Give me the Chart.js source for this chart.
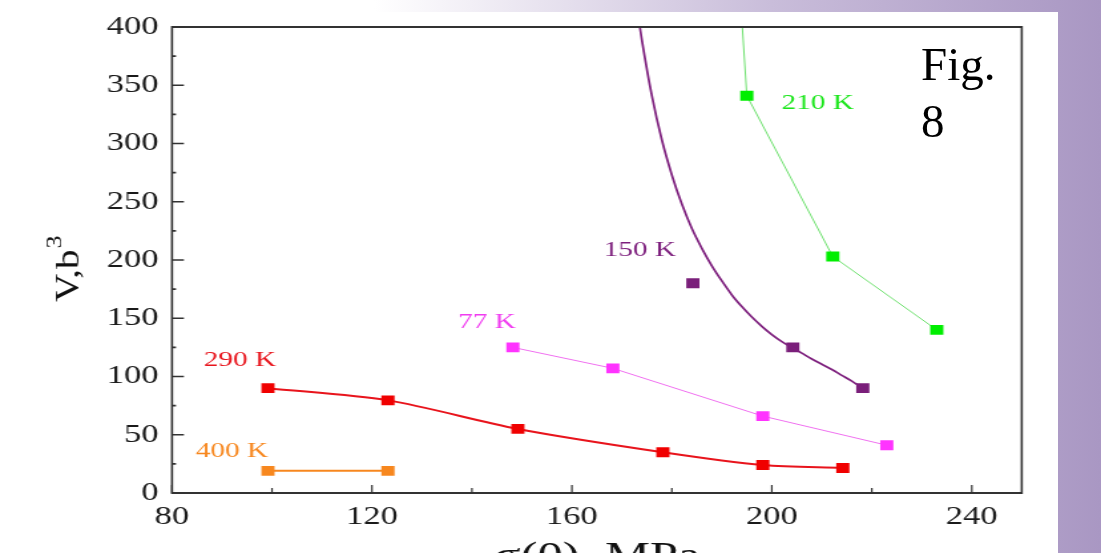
<!DOCTYPE html>
<html>
<head>
<meta charset="utf-8">
<script src="https://cdn.jsdelivr.net/npm/chart.js@4.4.1/dist/chart.umd.min.js"></script>
<style>
    html, body {
        margin: 0;
        width: 1101px;
        height: 553px;
        overflow: hidden;
        background: linear-gradient(to right, #ffffff 0%, #ffffff 34%, #c9bdda 70%, #a997c3 100%);
        position: relative;
    }
    #panel {
        position: absolute; left: 0; top: 12px; width: 1058px; height: 541px;
        background: #fff;
    }
    #wrap {
        position: absolute; left: 0; top: 0; width: 828px; height: 553px;
        transform: scaleX(1.3297); transform-origin: 0 0;
    }
    #fig {
        position: absolute; left: 921px; top: 36px; width: 85px;
        font-family: "Liberation Serif", "Times New Roman", serif; font-size: 47px; line-height: 57px; color: #000;
    }
</style>
</head>
<body>
<div id="panel"></div>
<div id="wrap"><canvas id="vChart" width="828" height="553"></canvas></div>
<div id="fig">Fig. 8</div>
<script>
// tick values
const xTicks = [80, 120, 160, 200, 240];
const yTicks = [0, 50, 100, 150, 200, 250, 300, 350, 400];

// sigma(0), MPa  vs  V, b^3
const sigma400 = [99.2, 123.2];
const v400 = [19, 19];

const sigma290 = [99.2, 123.2, 149.2, 178.2, 198.2, 214.2];
const v290 = [90, 79.5, 55, 35, 24, 21.5];

const sigma77 = [148.2, 168.2, 198.2, 223];
const v77 = [125, 107, 66, 41];

const sigma150 = [184.2, 204.2, 218.2];
const v150 = [180, 125, 90];

// fitted curve drawn through the 150 K data
const sigma150Fit = [173.6, 174, 176, 178, 180, 182, 184, 186, 188, 190, 192, 194, 196, 198,
    200, 202, 204, 206, 208, 210, 212, 214, 216, 218.2];
const v150Fit = [400, 389, 341, 303, 273, 248, 227, 210, 195, 182, 170, 160, 151, 143,
    136, 130, 125, 120, 115, 110.5, 106, 101, 96, 90];

const sigma210 = [194.1, 195, 212.2, 233];
const v210 = [400, 341, 203, 140];

const tempLabels = ['400 K', '290 K', '77 K', '150 K', '210 K'];

const STRETCH = 1.3297;

function pairs(xs, ys) {
    return xs.map((x, i) => ({ x: x, y: ys[i] }));
}

// where each temperature label sits (data units) and its colour
const labelSpots = [
    { text: tempLabels[0], x: 92, y: 36, color: '#f7871e' },
    { text: tempLabels[1], x: 93.6, y: 114, color: '#e8141c' },
    { text: tempLabels[2], x: 143, y: 147, color: '#f03cf0' },
    { text: tempLabels[3], x: 173.6, y: 208, color: '#7d1f7d' },
    { text: tempLabels[4], x: 209.2, y: 335, color: '#19e619' }
];

const decorPlugin = {
    id: 'decor',
    afterDraw(chart) {
        const { ctx, chartArea: a, scales: { x, y } } = chart;
        ctx.save();
        ctx.strokeStyle = '#333';

        // frame
        ctx.lineWidth = 2;
        ctx.beginPath();
        ctx.moveTo(a.left, a.top); ctx.lineTo(a.right, a.top);
        ctx.moveTo(a.left, a.bottom); ctx.lineTo(a.right, a.bottom);
        ctx.stroke();
        ctx.lineWidth = 1.6;
        ctx.beginPath();
        ctx.moveTo(a.left, a.top - 1); ctx.lineTo(a.left, a.bottom + 1);
        ctx.moveTo(a.right, a.top - 1); ctx.lineTo(a.right, a.bottom + 1);
        ctx.stroke();

        // inward ticks, bottom axis
        ctx.lineWidth = 1.2;
        ctx.beginPath();
        xTicks.forEach((v, i) => {
            const px = x.getPixelForValue(v);
            ctx.moveTo(px, a.bottom); ctx.lineTo(px, a.bottom - 8);
            if (i < xTicks.length - 1) {
                const mx = x.getPixelForValue((v + xTicks[i + 1]) / 2);
                ctx.moveTo(mx, a.bottom); ctx.lineTo(mx, a.bottom - 5);
            }
        });
        ctx.stroke();

        // inward ticks, left axis
        ctx.lineWidth = 1.6;
        ctx.beginPath();
        yTicks.forEach((v, i) => {
            const py = y.getPixelForValue(v);
            ctx.moveTo(a.left, py); ctx.lineTo(a.left + 9, py);
            if (i < yTicks.length - 1) {
                const my = y.getPixelForValue((v + yTicks[i + 1]) / 2);
                ctx.moveTo(a.left, my); ctx.lineTo(a.left + 3, my);
            }
        });
        ctx.stroke();

        // temperature labels
        ctx.font = '22px "Liberation Serif", serif';
        ctx.textAlign = 'center';
        ctx.textBaseline = 'middle';
        labelSpots.forEach(l => {
            ctx.fillStyle = l.color;
            ctx.fillText(l.text, x.getPixelForValue(l.x), y.getPixelForValue(l.y));
        });

        // axis titles
        ctx.fillStyle = '#111';
        ctx.font = '38px "Liberation Serif", serif';
        ctx.textBaseline = 'alphabetic';
        ctx.fillText('σ(0), MPa', (a.left + a.right) / 2, 568);

        ctx.save();
        ctx.translate(78 / STRETCH, 302);
        ctx.scale(0.62, 1);
        ctx.rotate(-Math.PI / 2);
        ctx.textAlign = 'left';
        ctx.font = '39px "Liberation Serif", serif';
        ctx.fillText('V,b', 0, 0);
        const w = ctx.measureText('V,b').width;
        ctx.font = '26px "Liberation Serif", serif';
        ctx.fillText('3', w + 1, -20);
        ctx.restore();

        ctx.restore();
    }
};

function seriesStyle(color, lineColor, width) {
    return {
        showLine: true,
        borderColor: lineColor,
        borderWidth: width,
        backgroundColor: color,
        pointStyle: 'rect',
        pointRadius: 7,
        pointHoverRadius: 7,
        pointBorderWidth: 0,
        pointBackgroundColor: color
    };
}

function plotChart() {
    const ctx = document.getElementById('vChart').getContext('2d');
    new Chart(ctx, {
        type: 'scatter',
        data: {
            datasets: [
                Object.assign({ label: tempLabels[0], data: pairs(sigma400, v400) },
                    seriesStyle('#f7871e', '#f7871e', 2)),
                Object.assign({ label: tempLabels[1], data: pairs(sigma290, v290), tension: 0.3 },
                    seriesStyle('#f00000', '#e8141c', 2)),
                Object.assign({ label: tempLabels[2], data: pairs(sigma77, v77) },
                    seriesStyle('#ff33ff', '#f070f0', 1)),
                Object.assign({ label: tempLabels[3] + ' fit', data: pairs(sigma150Fit, v150Fit), cubicInterpolationMode: 'monotone' },
                    seriesStyle('#7d1f7d', '#7d1f7d', 1.7), { pointRadius: 0, pointHoverRadius: 0 }),
                Object.assign({ label: tempLabels[3], data: pairs(sigma150, v150) },
                    seriesStyle('#7a1f7a', '#7a1f7a', 0), { showLine: false }),
                Object.assign({ label: tempLabels[4], data: pairs(sigma210, v210) },
                    seriesStyle('#00ee00', '#6ee06e', 1), { pointRadius: [0, 7, 7, 7] })
            ]
        },
        options: {
            responsive: false,
            animation: false,
            events: [],
            layout: { padding: { top: 27, right: 59.6, bottom: 0, left: 0 } },
            plugins: {
                legend: { display: false },
                tooltip: { enabled: false }
            },
            scales: {
                x: {
                    type: 'linear',
                    min: 80,
                    max: 250,
                    grid: { display: false, drawTicks: false },
                    border: { display: false },
                    ticks: {
                        padding: 9,
                        color: '#1a1a1a',
                        font: { family: 'Liberation Serif', size: 26 }
                    },
                    afterBuildTicks: s => { s.ticks = xTicks.map(v => ({ value: v })); },
                    afterFit: s => { s.height = 60; }
                },
                y: {
                    min: 0,
                    max: 400,
                    grid: { display: false, drawTicks: false },
                    border: { display: false },
                    ticks: {
                        padding: 10,
                        color: '#1a1a1a',
                        font: { family: 'Liberation Serif', size: 26 }
                    },
                    afterBuildTicks: s => { s.ticks = yTicks.map(v => ({ value: v })); },
                    afterFit: s => { s.width = 172 / STRETCH; }
                }
            }
        },
        plugins: [decorPlugin]
    });
}

plotChart();
</script>
</body>
</html>
